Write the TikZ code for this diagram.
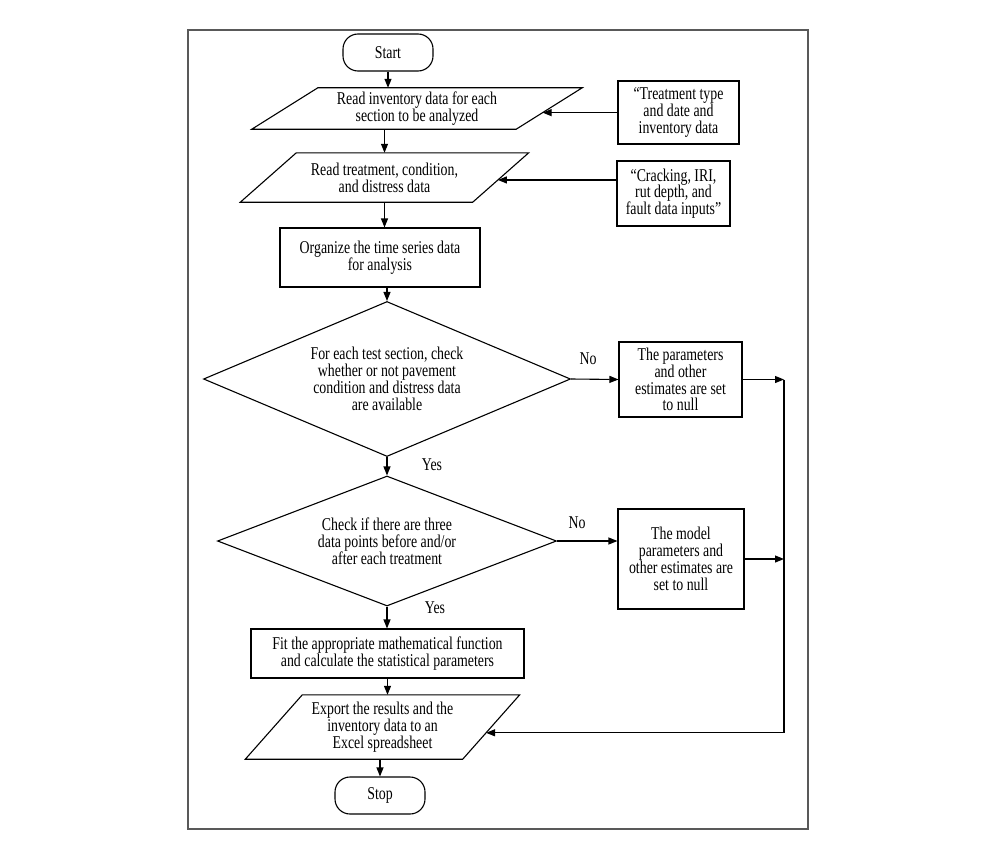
\documentclass[tikz,border=0pt]{standalone}
\usepackage{fontspec}
\setmainfont{Liberation Serif}[FakeStretch=0.77]
\usetikzlibrary{arrows.meta,shapes.geometric,calc}

% parallelogram outline round a named node: #1 node, #2 half of the slant
\newcommand{\slantbox}[2]{%
  \draw[line width=1.1pt] ([xshift=#2]#1.north west) -- ([xshift=#2]#1.north east)
    -- ([xshift=-#2]#1.south east) -- ([xshift=-#2]#1.south west) -- cycle;}

\begin{document}
\begin{tikzpicture}[x=1pt, y=-1pt,
    txt/.style={align=center, inner sep=0pt, font=\fontsize{18}{16.8}\selectfont},
    box/.style={txt, draw, line width=1.1pt, fill=white},
    proc/.style={box, rectangle},
    term/.style={box, rectangle, rounded corners=15pt},
    io/.style={txt, rectangle},
    dec/.style={box, diamond},
    lbl/.style={txt, fill=white, inner sep=2pt},
    arr/.style={-{Triangle[length=9pt,width=7pt]}, line width=1.1pt}
]
\useasboundingbox[fill=white] (0,0) rectangle (1000,864);
\draw[black!65, line width=1.2pt] (188,30) rectangle (808,829);

% main column
\node[term, minimum width=90pt, minimum height=37pt] (start) at (388,52.5) {Start};
\node[io, minimum width=264pt, minimum height=41pt] (read1) at (417,108.5) {Read inventory data for each\\section to be analyzed};
\slantbox{read1}{33pt}
\node[io, minimum width=232pt, minimum height=49pt] (read2) at (384.5,177.5) {Read treatment, condition,\\and distress data};
\slantbox{read2}{28pt}
\node[proc, minimum width=200pt, minimum height=59pt] (org) at (380,257.5) {Organize the time series data\\for analysis};
\node[dec, aspect=2.4, minimum width=367pt, minimum height=155pt] (chk1) at (387,379) {For each test section, check\\whether or not pavement\\condition and distress data\\are available};
\node[dec, aspect=2.6, minimum width=339pt, minimum height=130pt] (chk2) at (387,541) {Check if there are three\\data points before and/or\\after each treatment};
\node[proc, minimum width=273pt, minimum height=49pt] (fit) at (387.5,653.5) {Fit the appropriate mathematical function\\and calculate the statistical parameters};
\node[io, minimum width=217pt, minimum height=64pt] (export) at (382.5,727) {Export the results and the\\inventory data to an\\Excel spreadsheet};
\slantbox{export}{28.5pt}
\node[term, minimum width=90pt, minimum height=37pt] (stop) at (380,795.5) {Stop};

% side boxes
\node[proc, minimum width=121pt, minimum height=63pt] (treat) at (678.5,112.5) {“Treatment type\\and date and\\inventory data};
\node[proc, minimum width=113pt, minimum height=65pt] (crack) at (673.5,193.5) {“Cracking, IRI,\\rut depth, and\\fault data inputs”};
\node[proc, minimum width=123pt, minimum height=75pt] (null1) at (680.5,379.5) {The parameters\\and other\\estimates are set\\to null};
\node[proc, minimum width=126pt, minimum height=100pt] (null2) at (681,559) {The model\\parameters and\\other estimates are\\set to null};

% branch labels
\node[lbl] (no1) at (588,359) {No};
\node[lbl] (yes1) at (432,465) {Yes};
\node[lbl] (no2) at (577,523) {No};
\node[lbl] (yes2) at (435,608) {Yes};

\draw[arr] (start.south) -- (start.south |- read1.north);
\draw[arr] (read2.north |- read1.south) -- (read2.north);
\draw[arr] (read2.south) -- (read2.south |- org.north);
\draw[arr] (chk1.north |- org.south) -- (chk1.north);
\draw[arr] (chk1.south) -- (chk2.north);
\draw[arr] (chk2.south) -- (chk2.south |- fit.north);
\draw[arr] (fit.south) -- (fit.south |- export.north);
\draw[arr] (stop.north |- export.south) -- (stop.north);

\coordinate (in1) at ($([xshift=33pt]read1.north east)!0.6!([xshift=-33pt]read1.south east)$);
\draw[arr] (treat.west |- in1) -- (in1);
\coordinate (in2) at ($([xshift=28pt]read2.north east)!0.55!([xshift=-28pt]read2.south east)$);
\draw[arr] (crack.west |- in2) -- (in2);

\draw[arr] (chk1.east) -- (null1.west);
\draw[arr] (chk2.east) -- (chk2.east -| null2.west);

% return line
\coordinate (bus) at (784,733);
\draw[arr] (null1.east) -- (null1.east -| bus);
\draw[arr] (null2.east) -- (null2.east -| bus);
\coordinate (in3) at ($([xshift=28.5pt]export.north east)!0.59!([xshift=-28.5pt]export.south east)$);
\draw[arr] (null1.east -| bus) -- (bus |- in3) -- (in3);
\end{tikzpicture}
\end{document}
